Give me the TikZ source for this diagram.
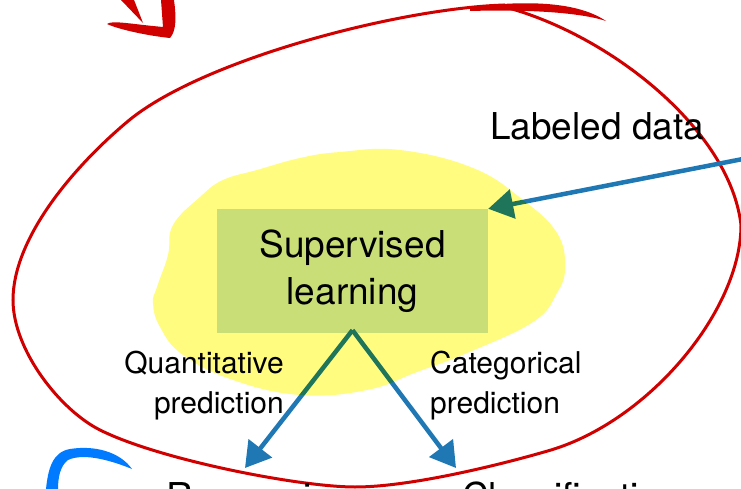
\documentclass[tikz,border=0pt]{standalone}
\usepackage{fontspec}
\setmainfont{TeX Gyre Heros}
\usetikzlibrary{arrows.meta}
\definecolor{penred}{RGB}{208,0,0}
\definecolor{penblue}{RGB}{0,122,255}
\definecolor{flowblue}{RGB}{31,119,180}
\definecolor{boxblue}{RGB}{202,225,239}
\definecolor{marker}{RGB}{255,252,128}

\begin{document}
\begin{tikzpicture}[x=1pt,y=-1pt,
    flow/.style={draw=flowblue,line width=4.5pt,-{Triangle[length=25pt,width=29pt]}},
    smalltext/.style={font=\fontsize{30}{40}\selectfont,inner sep=0pt},
    bigtext/.style={font=\fontsize{37}{47}\selectfont,inner sep=0pt},
    learnbox/.style={bigtext,fill=boxblue,minimum width=271pt,minimum height=124pt,align=center}]
  \useasboundingbox (0,0) rectangle (741,489);
  \clip (0,0) rectangle (741,489);

  % pen strokes
  \fill[penred] (121,0) -- (134,0) .. controls (138,10) .. (143,23) .. controls (132,12) .. (121,0) -- cycle;
  \fill[penred] (107,24) .. controls (112,20) and (130,24) .. (163,27) -- (161,0) -- (174,0)
    .. controls (176,15) and (177,30) .. (170,38) .. controls (150,36) and (120,30) .. (107,24) -- cycle;
  \draw[penred,line width=3pt] (505,7) .. controls (610,35) and (730,130) .. (741,225)
    .. controls (741,310) and (650,420) .. (551,450)
    .. controls (500,465) and (410,487) .. (355,487)
    .. controls (300,487) and (160,460) .. (100,430)
    .. controls (60,410) and (13,350) .. (13,300)
    .. controls (13,240) and (70,170) .. (127,122)
    .. controls (200,60) and (400,8) .. (505,5);
  \fill[penred] (470,7) .. controls (520,1) and (575,0) .. (606,21) .. controls (585,14) and (540,9) .. (470,11) -- cycle;
  \fill[penblue] (46,489) .. controls (48,470) and (52,452) .. (70,449) .. controls (95,445) and (120,452) .. (132,469)
    .. controls (115,462) and (85,452) .. (68,460) .. controls (60,466) and (58,478) .. (58,489) -- cycle;

  % nodes
  \node[learnbox] (sl) at (352.5,271) {Supervised\\learning};
  \node[bigtext,anchor=base west] (data) at (490,140) {Labeled data};
  \node[smalltext,anchor=north east,align=right] (quant) at (284,351) {Quantitative\\prediction};
  \node[smalltext,anchor=north west,align=left] (cat) at (430,351) {Categorical\\prediction};
  \node[bigtext,anchor=base west] (reg) at (166,509) {Regression};
  \node[bigtext,anchor=base west] (cls) at (462,509) {Classification};

  % connectors
  \coordinate (feed) at (748,158);
  \coordinate (regtip) at (245,468);
  \coordinate (clstip) at (456,468);
  \draw[flow] (feed) -- (sl.north east);
  \draw[flow] ([yshift=3pt]sl.south) -- (regtip);
  \draw[flow] ([yshift=3pt]sl.south) -- (clstip);

  % highlighter
  \fill[marker,blend mode=multiply] plot[smooth cycle,tension=0.7] coordinates {(400,150) (473,168)
    (523,200) (557,233) (565,267) (557,293) (533,322) (467,353) (417,372) (367,390) (300,395)
    (233,380) (183,355) (160,327) (153,303) (157,287) (168,255) (173,225) (200,197)
    (223,180) (257,170) (300,158) (340,152)};
\end{tikzpicture}
\end{document}
